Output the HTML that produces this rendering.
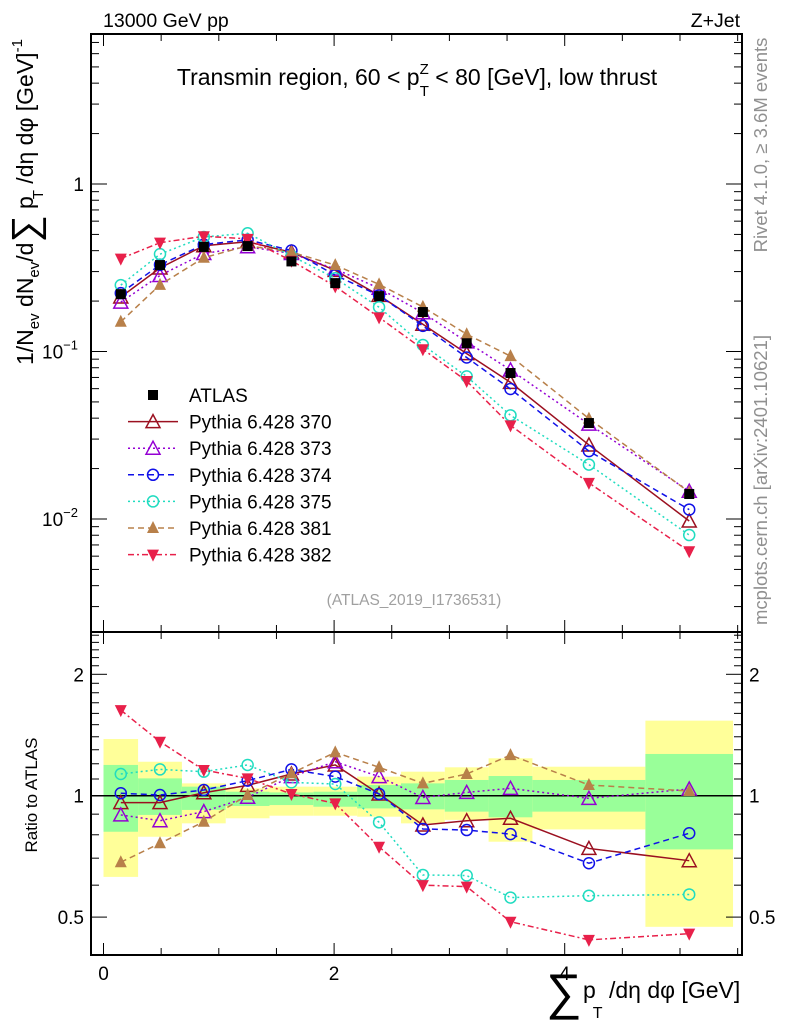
<!DOCTYPE html>
<html><head><meta charset="utf-8"><style>
html,body{margin:0;padding:0;background:#fff;}
svg{display:block;font-family:"Liberation Sans",Arial,sans-serif;}
</style></head><body>
<svg id="chart" width="786" height="1024" viewBox="0 0 786 1024" xmlns="http://www.w3.org/2000/svg">
<g id="bands"></g>
<g id="grid"></g>
<g id="series"></g>
<g id="legend"></g>
<text x="103" y="27" font-size="19.5">13000 GeV pp</text>
<text x="740" y="27" font-size="19.5" text-anchor="end">Z+Jet</text>
<text x="417" y="85" font-size="23" text-anchor="middle">Transmin region, 60 &lt; p<tspan dy="-11" font-size="15">Z</tspan><tspan dx="-9" dy="22" font-size="15">T</tspan><tspan dy="-11"> &lt; 80 [GeV], low thrust</tspan></text>
<text x="414" y="605" font-size="15.5" fill="#a0a0a0" text-anchor="middle">(ATLAS_2019_I1736531)</text>
<text transform="translate(767,145) rotate(-90)" font-size="18.5" fill="#909090" text-anchor="middle">Rivet 4.1.0, ≥ 3.6M events</text>
<text transform="translate(767,480) rotate(-90)" font-size="18.5" fill="#909090" text-anchor="middle">mcplots.cern.ch [arXiv:2401.10621]</text>
<text transform="translate(33,365) rotate(-90)" font-size="23">1/N<tspan font-size="15" dy="6">ev</tspan><tspan dy="-6"> dN</tspan><tspan font-size="15" dy="6">ev</tspan><tspan dy="-6">/d</tspan><tspan font-size="38" dy="5">∑</tspan><tspan dy="-5"> p</tspan><tspan font-size="15" dx="-3" dy="10">T</tspan><tspan dy="-10"> /dη dφ  [GeV]</tspan><tspan font-size="15" dy="-11">-1</tspan></text>
<text transform="translate(37,795) rotate(-90)" font-size="17" text-anchor="middle">Ratio to ATLAS</text>
<text x="546" y="1009" font-size="50">∑</text>
<text x="583" y="998" font-size="23">p<tspan font-size="16" dx="-3" dy="20">T</tspan><tspan dy="-20"> /dη dφ [GeV]</tspan></text>
</svg>
<script>
const NS="http://www.w3.org/2000/svg";
const binEdges=[0,0.3,0.68,1.06,1.44,1.82,2.2,2.58,2.96,3.34,3.72,4.7,5.46];
const atlasValues=[0.220,0.328,0.421,0.426,0.345,0.256,0.214,0.172,0.112,0.0744,0.0374,0.0141];
const ratio370=[0.961,0.961,1.017,1.061,1.132,1.192,1.010,0.846,0.867,0.879,0.740,0.690];
const ratio373=[0.896,0.867,0.913,0.991,1.115,1.214,1.115,0.990,1.019,1.043,0.985,1.039];
const ratio374=[1.014,1.004,1.033,1.090,1.162,1.115,1.010,0.827,0.822,0.803,0.680,0.807];
const ratio375=[1.132,1.162,1.147,1.192,1.079,1.069,0.859,0.636,0.634,0.559,0.565,0.569];
const ratio381=[0.684,0.762,0.862,1.004,1.136,1.281,1.176,1.073,1.132,1.261,1.063,1.027];
const ratio382=[1.630,1.361,1.158,1.104,1.010,0.957,0.747,0.600,0.595,0.487,0.439,0.455];
const totalLow=[0.629,0.791,0.854,0.879,0.892,0.892,0.887,0.854,0.871,0.769,0.825,0.473];
const totalHigh=[1.382,1.214,1.073,1.043,1.053,1.053,1.115,1.147,1.176,1.238,1.180,1.535];
const statLow=[0.814,0.896,0.922,0.943,0.948,0.939,0.930,0.925,0.913,0.884,0.913,0.736];
const statHigh=[1.192,1.104,1.053,1.023,1.019,1.023,1.063,1.073,1.094,1.119,1.094,1.269];
const ratioTickLabels=["0.5","1","2"];
const ratioTickValues=[0.5,1,2];

const L=91,R=742,T=34,MB=632,RB=955;
const xs=v=>103.5+115.3*v;
const ym=v=>184-167.5*Math.log10(v);
const yr=r=>795.7-121.4*Math.log2(r);
function mk(tag,attrs,parent){const e=document.createElementNS(NS,tag);for(const k in attrs)e.setAttribute(k,attrs[k]);parent.appendChild(e);return e;}
const grid=document.getElementById('grid'),bands=document.getElementById('bands'),ser=document.getElementById('series'),leg=document.getElementById('legend');

for(let i=0;i<atlasValues.length;i++){
  const x0=xs(binEdges[i]),x1=xs(binEdges[i+1]);
  const y=mk('rect',{x:x0,y:yr(totalHigh[i]),width:x1-x0,height:yr(totalLow[i])-yr(totalHigh[i]),fill:'#ffff99'},bands);
  
  
  const g=mk('rect',{x:x0,y:yr(statHigh[i]),width:x1-x0,height:yr(statLow[i])-yr(statHigh[i]),fill:'#99ff99'},bands);
  
  
}
mk('rect',{x:L,y:T,width:R-L,height:MB-T,fill:'none',stroke:'#000','stroke-width':2},grid);
mk('rect',{x:L,y:MB,width:R-L,height:RB-MB,fill:'none',stroke:'#000','stroke-width':2},grid);
mk('line',{x1:L,x2:R,y1:yr(1),y2:yr(1),stroke:'#000','stroke-width':1.5},grid);
for(let k=0;k<=11;k++){const v=k*0.5,x=xs(v);if(x>R)break;const len=(k%4==0)?12:7;
  [[T,T+len],[MB,MB-len],[MB,MB+len],[RB,RB-len]].forEach(p=>mk('line',{x1:x,x2:x,y1:p[0],y2:p[1],stroke:'#000','stroke-width':1},grid));
  if(k%4==0){const t=mk('text',{x:x,y:RB+25,'font-size':19,'text-anchor':'middle'},grid);t.textContent=String(v);}
}
for(let d=-3;d<=0;d++){for(let m=1;m<=9;m++){const v=m*Math.pow(10,d);const y=ym(v);if(y<T||y>MB)continue;const len=m==1?16:8;
  mk('line',{x1:L,x2:L+len,y1:y,y2:y,stroke:'#000'},grid);mk('line',{x1:R,x2:R-len,y1:y,y2:y,stroke:'#000'},grid);}}
[[0,'1',''],[-1,'10','−1'],[-2,'10','−2']].forEach(a=>{const y=ym(Math.pow(10,a[0]));const t=mk('text',{x:a[2]?42:84,y:y+7,'font-size':19,'text-anchor':a[2]?'start':'end'},grid);t.textContent=a[1];
  if(a[2]){const s=mk('tspan',{dy:-9,'font-size':13},t);s.textContent=a[2];}});
for(let k=4;k<=25;k++){const v=k/10,y=yr(v);if(y<MB||y>RB)continue;const maj=ratioTickValues.some(t=>Math.abs(t-v)<1e-6);const len=maj?16:8;
  mk('line',{x1:L,x2:L+len,y1:y,y2:y,stroke:'#000'},grid);mk('line',{x1:R,x2:R-len,y1:y,y2:y,stroke:'#000'},grid);}
ratioTickValues.forEach((v,i)=>{const y=yr(v);
  const a=mk('text',{x:84,y:y+7,'font-size':19,'text-anchor':'end'},grid);a.textContent=ratioTickLabels[i];
  const b=mk('text',{x:749,y:y+7,'font-size':19},grid);b.textContent=ratioTickLabels[i];});

const centers=atlasValues.map((_,i)=>(binEdges[i]+binEdges[i+1])/2);
function marker(type,color,x,y,g){
  if(type=='sq')return mk('rect',{x:x-5,y:y-5,width:10,height:10,fill:'#000'},g);
  if(type=='otri')return mk('polygon',{points:`${x},${y-7} ${x-7},${y+6} ${x+7},${y+6}`,fill:'none',stroke:color,'stroke-width':1.5},g);
  if(type=='circ')return mk('circle',{cx:x,cy:y,r:5.5,fill:'none',stroke:color,'stroke-width':1.5},g);
  if(type=='ftri')return mk('polygon',{points:`${x},${y-7} ${x-6},${y+5} ${x+6},${y+5}`,fill:color},g);
  if(type=='dtri')return mk('polygon',{points:`${x},${y+7} ${x-6},${y-5} ${x+6},${y-5}`,fill:color},g);
}
const series=[
 {name:'Pythia 6.428 370',r:ratio370,c:'#9b1020',dash:'',m:'otri',id:'series-370'},
 {name:'Pythia 6.428 373',r:ratio373,c:'#9400d3',dash:'2,3',m:'otri',id:'series-373'},
 {name:'Pythia 6.428 374',r:ratio374,c:'#1010e8',dash:'6,4',m:'circ',id:'series-374'},
 {name:'Pythia 6.428 375',r:ratio375,c:'#20dcc0',dash:'2,3',m:'circ',id:'series-375'},
 {name:'Pythia 6.428 381',r:ratio381,c:'#b8804a',dash:'6,4',m:'ftri',id:'series-381'},
 {name:'Pythia 6.428 382',r:ratio382,c:'#e8204a',dash:'6,3,2,3',m:'dtri',id:'series-382'}];
series.forEach(s=>{
  const g=mk('g',{},ser);
  
  
  const vals=s.r.map((r,i)=>r*atlasValues[i]);
  mk('polyline',{points:centers.map((c,i)=>xs(c)+','+ym(vals[i])).join(' '),fill:'none',stroke:s.c,'stroke-width':1.5,'stroke-dasharray':s.dash},g);
  mk('polyline',{points:centers.map((c,i)=>xs(c)+','+yr(s.r[i])).join(' '),fill:'none',stroke:s.c,'stroke-width':1.5,'stroke-dasharray':s.dash},g);
  centers.forEach((c,i)=>{
    const a=marker(s.m,s.c,xs(c),ym(vals[i]),g);
    
    
    const b=marker(s.m,s.c,xs(c),yr(s.r[i]),g);
    
    
  });
});
const ag=mk('g',{},ser);


centers.forEach((c,i)=>{const p=marker('sq','#000',xs(c),ym(atlasValues[i]),ag);
  
  });
const entries=[{name:'ATLAS',m:'sq',c:'#000',dash:'',line:false}].concat(series.map(s=>({name:s.name,m:s.m,c:s.c,dash:s.dash,line:true})));
entries.forEach((e,i)=>{const y=395+i*26.6;const g=mk('g',{},leg);
  
  
  if(e.line)mk('line',{x1:128,x2:178,y1:y,y2:y,stroke:e.c,'stroke-width':1.5,'stroke-dasharray':e.dash},g);
  marker(e.m,e.c,153,y,g);
  const t=mk('text',{x:189,y:y+7,'font-size':19},g);t.textContent=e.name;});
</script>
</body></html>
